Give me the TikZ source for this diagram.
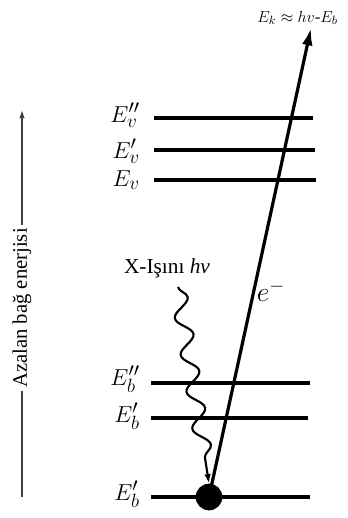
\documentclass[tikz,border=0pt]{standalone}
\usepackage{fontspec}
\setmainfont{Liberation Serif}
\usetikzlibrary{arrows.meta,decorations.pathmorphing}

\begin{document}
\begin{tikzpicture}[
    x=0.75pt, y=-0.75pt,
    level/.style={line width=2.6pt, draw=black},
    lvlabel/.style={anchor=base east, inner sep=0pt, font=\fontsize{19}{22}\selectfont},
    wave/.style={line width=1.6pt, -{Latex[length=7pt,width=5pt]}, decorate, decoration={snake, amplitude=6pt, segment length=28pt, post length=10pt}},
    elec/.style={line width=2.4pt, -{Latex[length=13pt,width=8pt]}},
    axisline/.style={draw=black!75, line width=0.9pt}
  ]
    \useasboundingbox (0,0) rectangle (348,518);

    % energy levels
    \draw[level] (154,118) -- (313,118);
    \draw[level] (154,150) -- (315,150);
    \draw[level] (154,180) -- (316,180);
    \draw[level] (151,383) -- (310,383);
    \draw[level] (151,418) -- (308,418);
    \draw[level] (151,497) -- (310,497);

    \node[lvlabel] (ev2) at (140,122) {$E''_v$};
    \node[lvlabel] (ev1) at (140,158) {$E'_v$};
    \node[lvlabel] (ev0) at (140,186) {$E_v$};
    \node[lvlabel] (eb2) at (140,385) {$E''_b$};
    \node[lvlabel] (eb1) at (140,422) {$E'_b$};
    \node[lvlabel] (eb0) at (140,500) {$E'_b$};

    \node[circle, fill=black, minimum size=20pt, inner sep=0pt] (atom) at (209,497) {};

    % photoelectron
    \coordinate (etip) at (311,28);
    \node[anchor=base west, inner sep=0pt, font=\fontsize{12.5}{15}\selectfont] (ek) at (257,22) {$E_k\approx hv$-$E_b$};
    \draw[elec] (atom.center) -- (etip);
    \node[font=\fontsize{21}{24}\selectfont] (elab) at (271,291) {$e^-$};

    % x-ray photon
    \node[font=\fontsize{16}{19}\selectfont] (xray) at (167,268) {X-Işını \textit{hv}};
    \coordinate (wstart) at (178,287);
    \draw[wave] (wstart) -- (atom.north);

    % energy axis
    \node[rotate=90, inner sep=2pt, font=\fontsize{15.5}{18}\selectfont] (axis) at (22,308) {Azalan bağ enerjisi};
    \coordinate (axtop) at (22,110);
    \coordinate (axbot) at (22,497);
    \draw[axisline, -{Latex[length=6pt,width=4pt]}] (axis.east) -- (axtop);
    \draw[axisline] (axis.west) -- (axbot);
\end{tikzpicture}
\end{document}
